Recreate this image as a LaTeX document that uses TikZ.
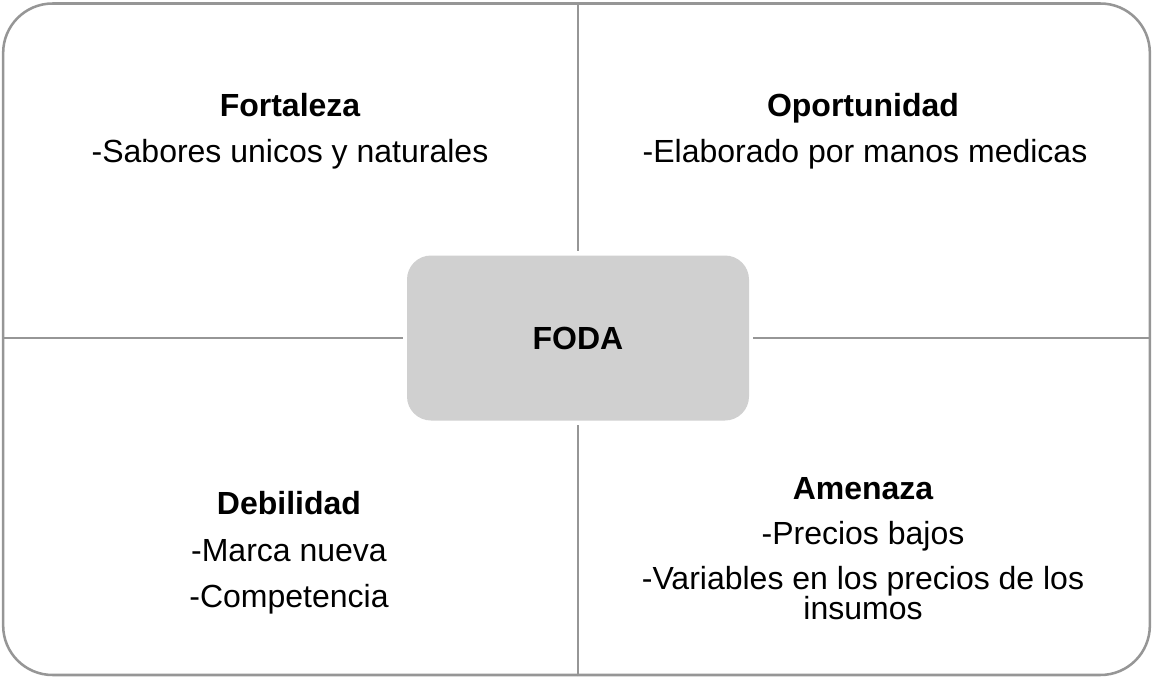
\documentclass[tikz,border=0pt]{standalone}
\usepackage{fontspec}
\setmainfont{Liberation Sans}
\usepackage{xcolor}
\definecolor{linegray}{HTML}{969696}
\definecolor{boxgray}{HTML}{D0D0D0}
\usepackage{tikz}
\usetikzlibrary{calc}

\begin{document}
\begin{tikzpicture}[x=0.75pt, y=-0.75pt,
    every node/.style={font=\fontsize{24}{28}\selectfont, text=black, inner sep=0pt},
    head/.style={font=\fontsize{24}{28}\selectfont\bfseries, anchor=base},
    item/.style={anchor=base},
    divider/.style={linegray, line width=1.9pt, shorten >=3pt}]
    \useasboundingbox (0,0) rectangle (1155,677);
    % Outer frame and centre box
    \node[draw=linegray, line width=1.9pt, rounded corners=37pt,
      minimum width=860pt, minimum height=503.6pt] (frame) at (576.5,339.25) {};
    \node[fill=boxgray, rounded corners=18pt, minimum width=256.5pt,
      minimum height=123.75pt, font=\fontsize{24}{28}\selectfont\bfseries] (foda) at (578,338) {FODA};
    % Dividers
    \draw[divider] (frame.north -| foda.north) -- (foda.north);
    \draw[divider] (frame.south -| foda.south) -- (foda.south);
    \draw[divider] (frame.west |- foda.west) -- (foda.west);
    \draw[divider] (frame.east |- foda.east) -- (foda.east);
    % Quadrant texts
    \node[head] (fortaleza) at (290,117) {Fortaleza};
    \node[item] (sabores) at (290,163) {-Sabores unicos y naturales};
    \node[head] (oportunidad) at (863,117) {Oportunidad};
    \node[item] (elaborado) at (865,163) {-Elaborado por manos medicas};
    \node[head] (debilidad) at (289,514) {Debilidad};
    \node[item] (marca) at (289,561) {-Marca nueva};
    \node[item] (competencia) at (289,607) {-Competencia};
    \node[head] (amenaza) at (863,499) {Amenaza};
    \node[item] (precios) at (863,544) {-Precios bajos};
    \node[item] (variables) at (863,589) {-Variables en los precios de los};
    \node[item] (insumos) at (863,619) {insumos};
  \end{tikzpicture}
\end{document}
